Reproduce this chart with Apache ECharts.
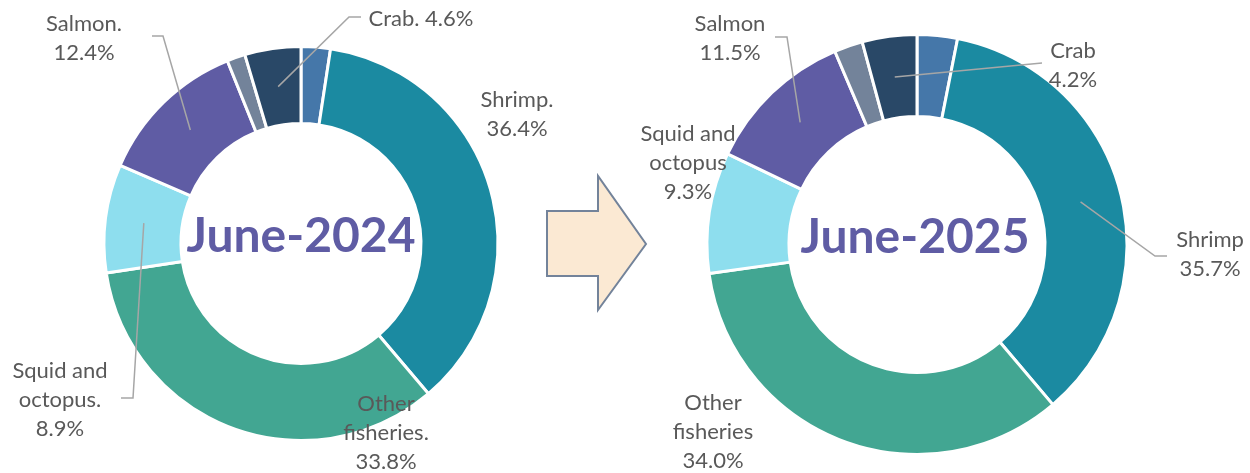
<!DOCTYPE html>
<html>
<head>
<meta charset="utf-8">
<title>Fisheries share</title>
<script src="https://cdn.jsdelivr.net/npm/echarts@6/dist/echarts.min.js"></script>
<style>
  html, body { margin: 0; padding: 0; background: #fff; }
  #chart { width: 1250px; height: 473px; }
</style>
</head>
<body>
<div id="chart"></div>
<script>
// slices, clockwise from 12 o'clock (two small unlabeled slices)
const categories = ['Minor A', 'Shrimp', 'Other fisheries', 'Squid and octopus', 'Salmon', 'Minor B', 'Crab']
const values2024 = [2.4, 36.4, 33.8, 8.9, 12.4, 1.5, 4.6]
const values2025 = [3.1, 35.7, 34.0, 9.3, 11.5, 2.2, 4.2]
const labelNames2024 = ['', 'Shrimp.\n', 'Other\nfisheries.\n', 'Squid and\noctopus.\n', 'Salmon.\n', '', 'Crab. ']
const labelNames2025 = ['', 'Shrimp\n', 'Other\nfisheries\n', 'Squid and\noctopus\n', 'Salmon\n', '', 'Crab\n']
const titles = ['June-2024', 'June-2025']

const colors = ['#4577A9', '#1B8AA1', '#42A692', '#8EDEEE', '#5F5CA4', '#73839A', '#294867']
const font = 'Lato, "Open Sans", sans-serif'

// pie geometry (px)
const pies = [
  { center: [301, 243.5], radius: [120, 197] },
  { center: [917, 244.5], radius: [128, 210] }
]

// label placement: text centre, plus elbow / end of the leader line (no line when missing)
const labelPlace = [
  {
    1: { x: 517, y: 114 },
    2: { x: 386, y: 433 },
    3: { x: 60, y: 400, line: [[133, 398], [121, 398]] },
    4: { x: 84, y: 38, line: [[163, 36], [152, 36]] },
    6: { x: 421, y: 19, line: [[349, 17], [361, 17]] }
  },
  {
    1: { x: 1210, y: 254, line: [[1155, 256], [1167, 256]] },
    2: { x: 713, y: 432 },
    3: { x: 688, y: 163 },
    4: { x: 730, y: 38, line: [[787, 37], [775, 37]] },
    6: { x: 1073, y: 65, line: [[1042, 63], [1042, 63]] }
  }
]

const seriesValues = [values2024, values2025]
const seriesLabels = [labelNames2024, labelNames2025]

// point in the middle of the ring at the slice's mid angle
function sliceAnchor(si, di) {
  const vals = seriesValues[si]
  const total = vals.reduce((a, b) => a + b, 0)
  let cum = 0
  for (let i = 0; i < di; i++) cum += vals[i]
  const mid = (cum + vals[di] / 2) / total * 360
  const ang = (90 - mid) * Math.PI / 180
  const p = pies[si]
  const r = (p.radius[0] + p.radius[1]) / 2
  return [p.center[0] + r * Math.cos(ang), p.center[1] - r * Math.sin(ang)]
}

function buildSeries(si) {
  const vals = seriesValues[si]
  return {
    type: 'pie',
    center: pies[si].center,
    radius: pies[si].radius,
    startAngle: 90,
    clockwise: true,
    avoidLabelOverlap: false,
    silent: true,
    animation: false,
    itemStyle: { borderColor: '#fff', borderWidth: 3 },
    label: {
      show: true,
      position: 'outside',
      color: '#595959',
      fontFamily: font,
      fontSize: 22,
      lineHeight: 29,
      align: 'center',
      formatter: p => seriesLabels[si][p.dataIndex] + p.value.toFixed(1) + '%'
    },
    labelLine: {
      show: true,
      showAbove: true,
      lineStyle: { color: '#A6A6A6', width: 1.5 }
    },
    labelLayout: params => {
      const place = labelPlace[si][params.dataIndex]
      if (!place) return {}
      const res = { x: place.x, y: place.y, align: 'center', verticalAlign: 'middle' }
      if (place.line) {
        res.labelLinePoints = [sliceAnchor(si, params.dataIndex)].concat(place.line)
      }
      return res
    },
    data: categories.map((name, i) => {
      const item = { name: name, value: vals[i], itemStyle: { color: colors[i] } }
      const place = labelPlace[si][i]
      if (!place) {
        item.label = { show: false }
        item.labelLine = { show: false }
      } else if (!place.line) {
        item.labelLine = { show: false }
      }
      return item
    })
  }
}

const chart = echarts.init(document.getElementById('chart'))

chart.setOption({
  backgroundColor: '#fff',
  graphic: [
    {
      type: 'polygon',
      shape: {
        points: [[547, 211], [598, 211], [598, 176], [646, 244], [598, 310], [598, 276], [547, 276]]
      },
      style: { fill: '#FBE9D3', stroke: '#73839A', lineWidth: 2 }
    },
    {
      type: 'text',
      x: pies[0].center[0],
      y: 237,
      style: {
        text: titles[0],
        align: 'center',
        verticalAlign: 'middle',
        fill: '#5F5CA4',
        font: 'bold 48px ' + font
      }
    },
    {
      type: 'text',
      x: pies[1].center[0] - 2,
      y: 238,
      style: {
        text: titles[1],
        align: 'center',
        verticalAlign: 'middle',
        fill: '#5F5CA4',
        font: 'bold 48px ' + font
      }
    }
  ],
  series: [buildSeries(0), buildSeries(1)]
})

// leader lines start inside the ring, so lift them above the sectors
const zr = chart.getZr()
zr.storage.getDisplayList(true).forEach(el => {
  if (el.type === 'polyline') {
    el.z2 = 100
    el.markRedraw()
  }
})
zr.refresh()
</script>
</body>
</html>
